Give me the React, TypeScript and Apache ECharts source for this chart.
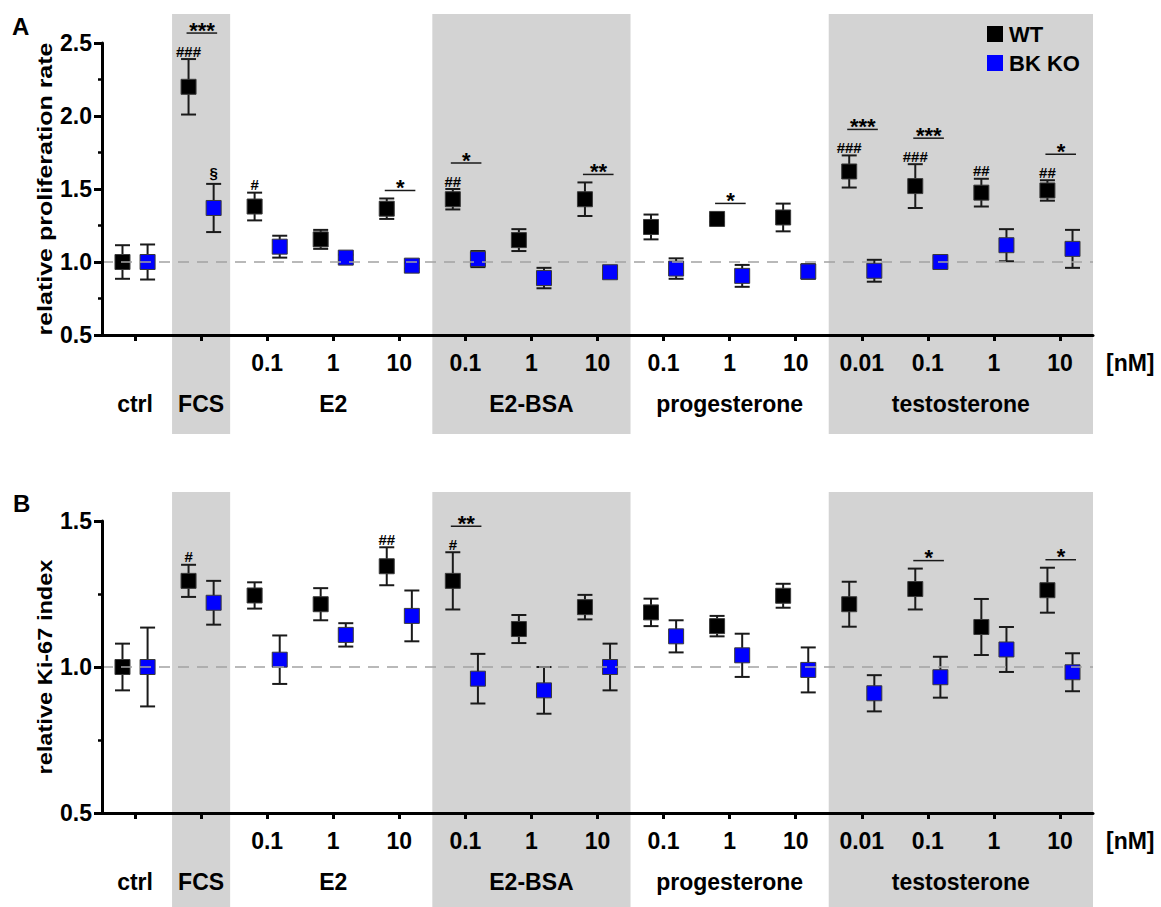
import React, { useEffect, useRef } from 'react';
import * as echarts from 'echarts';

// ---- categories / labels ----
const concLabels = ['', '', '0.1', '1', '10', '0.1', '1', '10', '0.1', '1', '10', '0.01', '0.1', '1', '10'];
const groupNames = ['ctrl', 'FCS', 'E2', 'E2-BSA', 'progesterone', 'testosterone'];
const groupStart = [0, 1, 2, 5, 8, 11];
const groupEnd = [0, 1, 4, 7, 10, 14];
const shadedStart = [1, 5, 11];
const shadedEnd = [1, 7, 14];
const unitLabel = '[nM]';
const seriesNames = ['WT', 'BK KO'];

// ---- Panel A: relative proliferation rate ----
const yTicksA = [0.5, 1.0, 1.5, 2.0, 2.5];
const wtMeanA = [1.0, 2.2, 1.38, 1.155, 1.365, 1.43, 1.15, 1.43, 1.24, 1.295, 1.305, 1.62, 1.52, 1.475, 1.49];
const wtErrA = [0.115, 0.19, 0.095, 0.065, 0.07, 0.07, 0.075, 0.115, 0.085, 0.02, 0.095, 0.11, 0.15, 0.095, 0.07];
const koMeanA = [1.0, 1.37, 1.105, 1.03, 0.975, 1.02, 0.89, 0.93, 0.955, 0.905, 0.935, 0.94, 1.0, 1.115, 1.09];
const koErrA = [0.12, 0.165, 0.075, 0.02, 0.02, 0.055, 0.07, 0.02, 0.07, 0.075, 0.05, 0.075, 0.03, 0.11, 0.13];
const hashA = ['', '###', '#', '', '', '##', '', '', '', '', '', '###', '###', '##', '##'];
const starsA = ['', '***', '', '', '*', '*', '', '**', '', '*', '', '***', '***', '', '*'];
const koMarkA = ['', '§', '', '', '', '', '', '', '', '', '', '', '', '', ''];

// ---- Panel B: relative Ki-67 index ----
const yTicksB = [0.5, 1.0, 1.5];
const wtMeanB = [1.0, 1.295, 1.245, 1.215, 1.345, 1.295, 1.13, 1.205, 1.187, 1.14, 1.244, 1.215, 1.267, 1.137, 1.263];
const wtErrB = [0.08, 0.055, 0.045, 0.055, 0.065, 0.098, 0.048, 0.042, 0.047, 0.035, 0.041, 0.077, 0.07, 0.096, 0.077];
const koMeanB = [1.0, 1.22, 1.025, 1.11, 1.175, 0.96, 0.92, 1.0, 1.105, 1.04, 0.99, 0.91, 0.965, 1.06, 0.982];
const koErrB = [0.135, 0.075, 0.083, 0.04, 0.087, 0.085, 0.08, 0.08, 0.055, 0.074, 0.077, 0.062, 0.07, 0.077, 0.065];
const hashB = ['', '#', '', '', '##', '#', '', '', '', '', '', '', '', '', ''];
const starsB = ['', '', '', '', '', '**', '', '', '', '', '', '', '*', '', '*'];
const koMarkB = ['', '', '', '', '', '', '', '', '', '', '', '', '', '', ''];

const FF = '"Liberation Sans", Arial, Helvetica, sans-serif';
const BAND = '#d3d3d3';
const WT_COLOR = '#000000';
const KO_COLOR = '#0000ff';
const ERR = '#1a1a1a';
const OFF = 0.19;

function txt(text: string, x: number, y: number, font: string, lineHeight?: number) {
  const style: any = {
    text, x, y, font, fill: '#000',
    align: 'center', verticalAlign: 'middle', textAlign: 'center', textVerticalAlign: 'middle',
  };
  if (lineHeight) style.lineHeight = lineHeight;
  return { type: 'text', style };
}

function bandSeries(gi: number) {
  return {
    type: 'custom',
    name: 'bands' + gi,
    xAxisIndex: gi,
    yAxisIndex: gi,
    z: 1,
    silent: true,
    clip: false,
    encode: { x: 0, y: 1 },
    data: shadedStart.map((s, i) => [s, 1.0, shadedEnd[i]]),
    renderItem: (params: any, api: any) => {
      const cs = params.coordSys;
      const cw = api.size([1, 0])[0];
      const single = api.value(0) === api.value(2);
      const pad = single ? 4 : 0;
      const x0 = api.coord([api.value(0), 1])[0] - cw / 2 + pad;
      const x1 = api.coord([api.value(2), 1])[0] + cw / 2 - pad;
      const y0 = cs.y - 29;
      const y1 = cs.y + cs.height + 99;
      return { type: 'rect', shape: { x: x0, y: y0, width: x1 - x0, height: y1 - y0 }, style: { fill: BAND } };
    },
    markLine: {
      silent: true,
      symbol: 'none',
      label: { show: false },
      lineStyle: { type: [11, 8], color: '#a3a3a3', width: 1.5 },
      data: [{ yAxis: 1 }],
    },
  };
}

function pointSeries(gi: number, name: string, mean: number[], err: number[], color: string, off: number) {
  return {
    type: 'custom',
    name,
    xAxisIndex: gi,
    yAxisIndex: gi,
    z: 4,
    clip: false,
    itemStyle: { color },
    encode: { x: 0, y: 1 },
    data: mean.map((m, i) => [i, m, err[i]]),
    renderItem: (params: any, api: any) => {
      const i = api.value(0);
      const m = api.value(1);
      const e = api.value(2);
      const cw = api.size([1, 0])[0];
      const c = api.coord([i, m]);
      const x = c[0] + off * cw;
      const yt = api.coord([i, m + e])[1];
      const yb = api.coord([i, m - e])[1];
      const hw = 7.5;
      const cap = 7.5;
      const ls = { stroke: ERR, lineWidth: 2 };
      return {
        type: 'group',
        children: [
          { type: 'line', shape: { x1: x, y1: yt, x2: x, y2: yb }, style: ls },
          { type: 'line', shape: { x1: x - cap, y1: yt, x2: x + cap, y2: yt }, style: ls },
          { type: 'line', shape: { x1: x - cap, y1: yb, x2: x + cap, y2: yb }, style: ls },
          {
            type: 'rect',
            shape: { x: x - hw, y: c[1] - hw, width: 2 * hw, height: 2 * hw },
            style: { fill: color, stroke: '#3a3a3a', lineWidth: 1 },
          },
        ],
      };
    },
  };
}

function annotSeries(gi: number, wtMean: number[], wtErr: number[], koMean: number[], koErr: number[], hash: string[], stars: string[], koMark: string[]) {
  return {
    type: 'custom',
    name: 'annot' + gi,
    xAxisIndex: gi,
    yAxisIndex: gi,
    z: 5,
    silent: true,
    clip: false,
    encode: { x: 0, y: 1 },
    data: wtMean.map((m, i) => [i, m + wtErr[i], m, koMean[i] + koErr[i], koMean[i]]),
    renderItem: (params: any, api: any) => {
      const i = api.value(0);
      const cw = api.size([1, 0])[0];
      const cx = api.coord([i, api.value(2)])[0];
      const wx = cx - OFF * cw;
      const kx = cx + OFF * cw;
      const wTop = Math.min(api.coord([i, api.value(1)])[1], api.coord([i, api.value(2)])[1] - 7.5);
      const kTop = Math.min(api.coord([i, api.value(3)])[1], api.coord([i, api.value(4)])[1] - 7.5);
      const children: any[] = [];
      if (hash[i]) children.push(txt(hash[i], wx, wTop - 8, 'bold 15px ' + FF, 12));
      if (koMark[i]) children.push(txt(koMark[i], kx, kTop - 11, 'bold 15px ' + FF, 13));
      if (stars[i]) {
        const by = wTop - (hash[i] ? 26 : 8);
        children.push({ type: 'line', shape: { x1: wx - 2, y1: by, x2: kx + 3.5, y2: by }, style: { stroke: ERR, lineWidth: 1.5 } });
        children.push(txt(stars[i], (wx + kx) / 2 + 1, by - 3, 'bold 22px ' + FF, 14));
      }
      return { type: 'group', children };
    },
  };
}

function groupLabelSeries(gi: number) {
  return {
    type: 'custom',
    name: 'groups' + gi,
    xAxisIndex: gi,
    yAxisIndex: gi,
    z: 5,
    silent: true,
    clip: false,
    encode: { x: 0, y: 1 },
    data: groupStart.map((s, i) => [s, 1.0, groupEnd[i]]),
    renderItem: (params: any, api: any) => {
      const cs = params.coordSys;
      const x0 = api.coord([api.value(0), 1])[0];
      const x1 = api.coord([api.value(2), 1])[0];
      return txt(groupNames[params.dataIndex], (x0 + x1) / 2, cs.y + cs.height + 69, 'bold 23px ' + FF);
    },
  };
}

function xAxisCfg(gi: number) {
  return {
    type: 'category',
    gridIndex: gi,
    data: concLabels,
    boundaryGap: true,
    z: 6,
    axisLine: { show: true, lineStyle: { color: '#000', width: 3 } },
    axisTick: { show: true, alignWithLabel: true, interval: 0, length: 6, lineStyle: { color: '#000', width: 3 } },
    axisLabel: { interval: 0, margin: 16, color: '#000', fontSize: 23, fontWeight: 'bold', fontFamily: FF },
    splitLine: { show: false },
  };
}

function yAxisCfg(gi: number, ticks: number[]) {
  return {
    type: 'value',
    gridIndex: gi,
    min: ticks[0],
    max: ticks[ticks.length - 1],
    interval: ticks[1] - ticks[0],
    z: 6,
    axisLine: { show: true, lineStyle: { color: '#000', width: 3 } },
    axisTick: { show: true, length: 8, lineStyle: { color: '#000', width: 3 } },
    minorTick: { show: true, splitNumber: 2, length: 4, lineStyle: { color: '#000', width: 2.5 } },
    axisLabel: {
      margin: 10,
      color: '#000',
      fontSize: 23,
      fontWeight: 'bold',
      fontFamily: FF,
      formatter: (v: number) => v.toFixed(1),
    },
    splitLine: { show: false },
  };
}

export default function App() {
  const ref = useRef<HTMLDivElement>(null);
  useEffect(() => {
    if (!ref.current) return;
    const chart = echarts.init(ref.current, undefined, { renderer: 'svg' });
    const option: any = {
      animation: false,
      backgroundColor: '#ffffff',
      grid: [
        { left: 102, top: 43, width: 991, height: 292 },
        { left: 102, top: 521, width: 991, height: 292 },
      ],
      xAxis: [xAxisCfg(0), xAxisCfg(1)],
      yAxis: [yAxisCfg(0, yTicksA), yAxisCfg(1, yTicksB)],
      legend: {
        orient: 'vertical',
        left: 987,
        top: 23,
        padding: 0,
        itemWidth: 16,
        itemHeight: 16,
        itemGap: 7,
        data: [
          { name: seriesNames[0], icon: 'rect' },
          { name: seriesNames[1], icon: 'rect' },
        ],
        textStyle: { fontSize: 22, fontWeight: 'bold', color: '#000', fontFamily: FF, padding: [0, 0, 0, 1] },
        selectedMode: false,
      },
      graphic: [
        { type: 'text', x: 12, y: 14, style: { text: 'A', font: 'bold 24px ' + FF, fill: '#000' } },
        { type: 'text', x: 13, y: 491, style: { text: 'B', font: 'bold 24px ' + FF, fill: '#000' } },
        {
          type: 'text', x: 45, y: 189, rotation: Math.PI / 2, scaleX: 1.25,
          style: { text: 'relative proliferation rate', font: 'bold 20px ' + FF, fill: '#000', align: 'center', verticalAlign: 'middle', textAlign: 'center', textVerticalAlign: 'middle' },
        },
        {
          type: 'text', x: 45, y: 667, rotation: Math.PI / 2, scaleX: 1.18,
          style: { text: 'relative Ki-67 index', font: 'bold 20px ' + FF, fill: '#000', align: 'center', verticalAlign: 'middle', textAlign: 'center', textVerticalAlign: 'middle' },
        },
        {
          type: 'text', x: 1106, y: 363,
          style: { text: unitLabel, font: 'bold 23px ' + FF, fill: '#000', align: 'left', verticalAlign: 'middle', textAlign: 'left', textVerticalAlign: 'middle' },
        },
        {
          type: 'text', x: 1106, y: 841,
          style: { text: unitLabel, font: 'bold 23px ' + FF, fill: '#000', align: 'left', verticalAlign: 'middle', textAlign: 'left', textVerticalAlign: 'middle' },
        },
      ],
      series: [
        bandSeries(0),
        bandSeries(1),
        pointSeries(0, seriesNames[0], wtMeanA, wtErrA, WT_COLOR, -OFF),
        pointSeries(0, seriesNames[1], koMeanA, koErrA, KO_COLOR, OFF),
        pointSeries(1, seriesNames[0], wtMeanB, wtErrB, WT_COLOR, -OFF),
        pointSeries(1, seriesNames[1], koMeanB, koErrB, KO_COLOR, OFF),
        annotSeries(0, wtMeanA, wtErrA, koMeanA, koErrA, hashA, starsA, koMarkA),
        annotSeries(1, wtMeanB, wtErrB, koMeanB, koErrB, hashB, starsB, koMarkB),
        groupLabelSeries(0),
        groupLabelSeries(1),
      ],
    };
    chart.setOption(option);
    return () => chart.dispose();
  }, []);
  return <div ref={ref} style={{ position: 'fixed', left: 0, top: 0, width: 1161, height: 907, background: '#fff' }} />;
}
